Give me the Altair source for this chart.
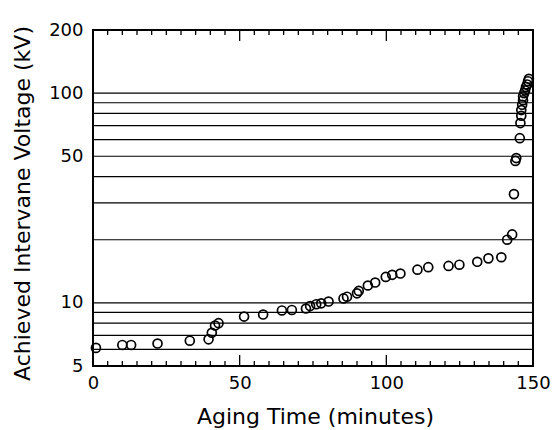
import altair as alt
import pandas as pd

# Data
aging_time = [1, 10, 13, 22, 33, 39.4, 40.5, 41.6, 42.8,
              51.5, 58, 64.4, 67.8, 72.6, 74, 76.1, 77.8, 80.3, 85.4, 86.6, 90, 90.6, 93.7, 96.2,
              99.8, 102, 104.8, 110.6, 114.3, 121.2, 124.9, 131, 134.8, 139.2,
              141.2, 142.9, 143.5, 144, 144.3, 145.5,
              145.7, 146, 146, 146.3, 146.6, 146.6, 147, 147.3, 147.6, 148, 148.3, 148.6]
voltage = [6.1, 6.3, 6.3, 6.4, 6.6, 6.7, 7.2, 7.8, 8.0,
           8.6, 8.8, 9.2, 9.25, 9.4, 9.65, 9.85, 9.95, 10.15, 10.5, 10.7, 11.1, 11.4, 12.1, 12.5,
           13.3, 13.6, 13.8, 14.4, 14.8, 15.0, 15.2, 15.7, 16.3, 16.5,
           20, 21.2, 33, 47.5, 49, 61,
           72, 78, 83, 88, 92.5, 96.5, 100, 103, 107, 110, 114, 117]

grid_values = [6, 7, 8, 9, 10, 20, 30, 40, 50, 60, 70, 80, 90, 100]
y_labels = [5, 10, 50, 100, 200]
x_labels = [0, 50, 100, 150]
minor_ticks = [5, 10, 15, 20, 25, 30, 35, 40, 45, 55, 60, 65, 70, 75, 80, 85, 90, 95,
               105, 110, 115, 120, 125, 130, 135, 140, 145]
major_ticks = [50, 100]

pts = pd.DataFrame({"t": aging_time, "v": voltage})
grid = pd.DataFrame({"v": grid_values})
minor = pd.DataFrame({"t": minor_ticks})
major = pd.DataFrame({"t": major_ticks})

xscale = alt.Scale(domain=[0, 150], nice=False, zero=False)
yscale = alt.Scale(type="log", domain=[5, 200], nice=False)

xaxis = alt.Axis(values=x_labels, title="Aging Time (minutes)", ticks=False, tickSize=0,
                 domain=False, grid=False, labelFlush=False, labelPadding=22,
                 labelBaseline="alphabetic", titleX=222, titleY=57,
                 titleBaseline="alphabetic", titleAlign="center")
yaxis = alt.Axis(values=y_labels, format="d", title="Achieved Intervane Voltage (kV)",
                 ticks=False, tickSize=0, domain=False, grid=False, labelPadding=10,
                 labelOverlap=False, labelFlush=False, labelBaseline="middle",
                 titleX=-71, titleY=173, titleBaseline="middle", titleAlign="center")

X = alt.X("t:Q", scale=xscale, axis=xaxis, title="Aging Time (minutes)")
Y = alt.Y("v:Q", scale=yscale, axis=yaxis, title="Achieved Intervane Voltage (kV)")

H = 336

gridlines = alt.Chart(grid).mark_rule(color="black", strokeWidth=1.2).encode(y=Y)

points = alt.Chart(pts).mark_point(
    shape="circle", filled=False, color="black", size=80, strokeWidth=1.7, opacity=1
).encode(x=X, y=Y)

def tick_layer(df, y0, y1):
    return alt.Chart(df).mark_rule(color="black", strokeWidth=1.3).encode(
        x=X, y=alt.value(y0), y2=alt.value(y1),
    )

layers = [
    gridlines,
    tick_layer(minor, H, H - 5),
    tick_layer(major, H, H - 11),
    tick_layer(minor, 0, 5),
    tick_layer(major, 0, 11),
    points,
]

chart = alt.layer(*layers).properties(
    width=440, height=H,
    autosize=alt.AutoSizeParams(type="none"),
    padding={"left": 85, "top": 22, "right": 19, "bottom": 62},
    background="white",
).configure_view(
    stroke="black", strokeWidth=2
).configure_axis(
    labelFont="DejaVu Sans", titleFont="DejaVu Sans",
    labelFontSize=18, titleFontSize=22, labelColor="black", titleColor="black",
    titleFontWeight="normal",
)

chart.save("out.html", embed_options={"renderer": "svg", "actions": False})
